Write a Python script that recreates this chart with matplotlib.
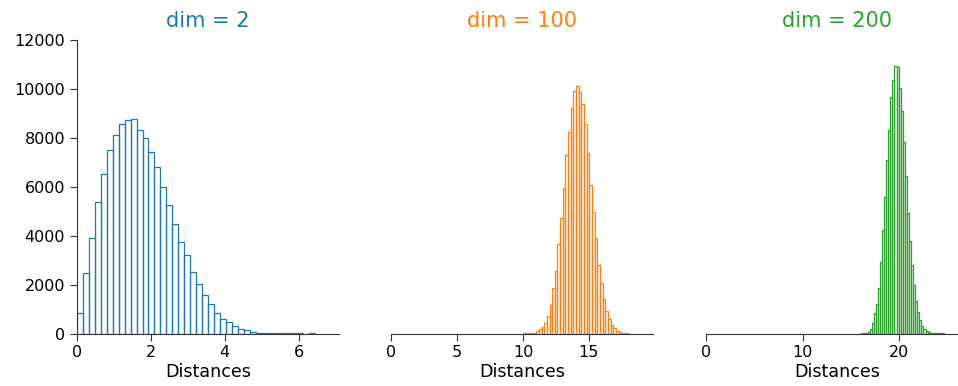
import numpy as np
from matplotlib import pyplot as plt

# histogram counts (40 bins per panel)
dims = [2, 100, 200]
ranges = [(0.0, 6.45), (10.0, 18.05), (16.06, 24.62)]
counts_2 = [854, 2481, 3892, 5383, 6522, 7485, 8122, 8583, 8746, 8786,
            8325, 8000, 7417, 6793, 6007, 5234, 4461, 3742, 3227, 2522,
            2007, 1586, 1207, 854, 610, 475, 298, 203, 136, 81,
            40, 27, 15, 9, 5, 3, 2, 1, 0, 1]
counts_100 = [3, 6, 12, 20, 40, 110, 200, 270, 410, 710,
              1145, 1840, 2560, 3640, 4730, 5940, 7280, 8245, 9200, 9920,
              10110, 9855, 9375, 8585, 7400, 6090, 4950, 3885, 2820, 2045,
              1400, 925, 585, 340, 205, 110, 70, 30, 12, 4]
counts_200 = [3, 10, 30, 70, 200, 410, 820, 1225, 1880, 2915,
              4225, 5590, 7085, 8310, 9650, 10385, 10930, 10900, 10030, 9090,
              7850, 6445, 4945, 3775, 2805, 1990, 1340, 885, 550, 320,
              175, 95, 50, 25, 12, 6, 3, 2, 1, 1]
all_counts = [counts_2, counts_100, counts_200]
xticks = [[0, 2, 4, 6], [0, 5, 10, 15], [0, 10, 20]]
colors = ['tab:blue', 'tab:orange', 'tab:green']

fig = plt.figure(figsize=(9.58, 3.86), dpi=100)
W, H = 958, 386
lefts = [77, 391, 706]
width = 262
top, bottom = 40, 333.5

for i in range(3):
    ax = fig.add_axes([lefts[i] / W, (H - bottom) / H, width / W, (bottom - top) / H])
    lo, hi = ranges[i]
    edges = np.linspace(lo, hi, len(all_counts[i]) + 1)
    ax.hist(edges[:-1], bins=edges, weights=all_counts[i], histtype='bar',
            fill=False, edgecolor=colors[i], linewidth=0.9)
    ax.set_xlim(0, hi * 1.1)
    ax.set_ylim(0, 12000)
    ax.set_xticks(xticks[i])
    ax.set_title('dim = %d' % dims[i], color=colors[i], fontsize=15, pad=9)
    ax.set_xlabel('Distances', fontsize=12.6, labelpad=2)
    ax.spines['top'].set_visible(False)
    ax.spines['right'].set_visible(False)
    ax.tick_params(labelsize=11.5, length=5, color='#333333')
    ax.spines['bottom'].set_color('#333333')
    ax.spines['left'].set_color('#333333')
    if i == 0:
        ax.set_yticks(range(0, 12001, 2000))
    else:
        ax.spines['left'].set_visible(False)
        ax.set_yticks([])

fig.savefig('out.png', dpi=100)
